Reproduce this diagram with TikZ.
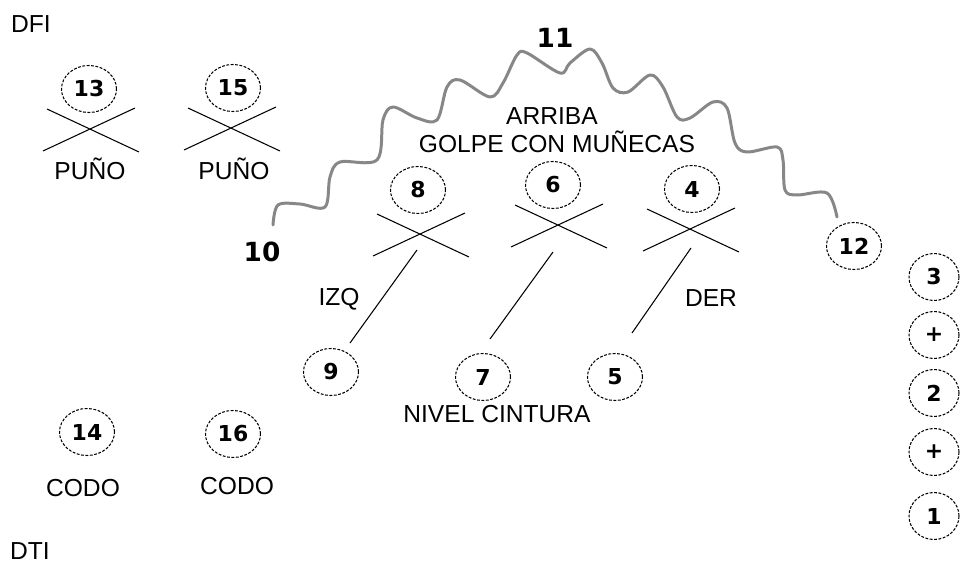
\documentclass[tikz,border=0pt]{standalone}
\usepackage{fontspec}
\setmainfont{Liberation Sans}
\newfontfamily\numfont{DejaVu Sans}
\usepackage{tikz}
\usetikzlibrary{shapes.geometric, positioning}
\definecolor{wavegray}{RGB}{135, 135, 135}

\begin{document}
\begin{tikzpicture}[
    x=0.02cm, y=-0.02cm,
    num/.style={draw, ellipse, dash pattern=on 1.6pt off 0.9pt, line width=0.6pt, minimum width=1.1cm, minimum height=0.94cm, inner sep=0pt, font=\numfont\bfseries\fontsize{12.5}{14}\selectfont},
    lbl/.style={inner sep=0pt, font=\fontsize{14}{16}\selectfont},
    bignum/.style={inner sep=0pt, font=\numfont\bfseries\fontsize{15}{17}\selectfont},
    xline/.style={line width=0.6pt},
    wave/.style={wavegray, line width=1.7pt, line cap=round, line join=round}
]
    \useasboundingbox[fill=white] (0,0) rectangle (961,568);

    % Labels - corners
    \node[lbl] (dfi) at (31,24) {DFI};
    \node[lbl] (dti) at (30,551) {DTI};

    % Nodes - left fists and elbows
    \node[num] (c13) at (89,89) {13};
    \node[num] (c15) at (233,88) {15};
    \node[lbl] (puno1) at (90,169) {PUÑO};
    \node[lbl] (puno2) at (234,169) {PUÑO};
    \node[num] (c14) at (87,432) {14};
    \node[num] (c16) at (233,434) {16};
    \node[lbl] (codo1) at (83,488) {CODO};
    \node[lbl] (codo2) at (237,486) {CODO};

    % Nodes - top row
    \node[num] (c8) at (418,190) {8};
    \node[num] (c6) at (553,185) {6};
    \node[num] (c4) at (692,189) {4};
    \node[lbl] (arriba) at (552,116) {ARRIBA};
    \node[lbl] (golpe) at (557,142) {GOLPE CON MUÑECAS};

    % Nodes - waist row
    \node[num] (c9) at (331,372) {9};
    \node[num] (c7) at (483,377) {7};
    \node[num] (c5) at (615,377) {5};
    \node[lbl] (izq) at (339,299) {IZQ};
    \node[lbl] (der) at (711,298) {DER};
    \node[lbl] (cintura) at (497,414) {NIVEL CINTURA};

    % Nodes - arc ends
    \node[bignum] (n11) at (555,38) {11};
    \node[bignum] (n10) at (262,252) {10};
    \node[num] (c12) at (854,246) {12};

    % Nodes - right column
    \node[num, minimum width=1.0cm] (c3) at (934,277) {3};
    \node[num, minimum width=1.0cm] (p2) at (934,335) {+};
    \node[num, minimum width=1.0cm] (c2) at (934,393) {2};
    \node[num, minimum width=1.0cm] (p1) at (934,452) {+};
    \node[num, minimum width=1.0cm] (c1) at (934,516) {1};

    % Crosses
    \coordinate (x13) at (90,130);
    \coordinate (x15) at (231,129);
    \coordinate (x8) at (420,235);
    \coordinate (x6) at (558,226);
    \coordinate (x4) at (690,230);
    \foreach \n in {x13,x15,x8,x6,x4}
        \draw[xline] (\n) ++(-43,-21) -- ++(92,43) (\n) ++(-47,21) -- ++(92,-43);

    % Lines to waist
    \coordinate (t9) at (417,250);
    \coordinate (b9) at (350,343);
    \coordinate (t7) at (553,252);
    \coordinate (b7) at (490,339);
    \coordinate (t5) at (691,248);
    \coordinate (b5) at (632,333);
    \draw[xline] (t9) -- (b9);
    \draw[xline] (t7) -- (b7);
    \draw[xline] (t5) -- (b5);

    % Wavy arc from 10 to 12
    \draw[wave] plot[smooth, tension=0.55] coordinates {
        (273,225) (278,205) (300,204) (325,207) (330,177) (340,162) (377,160)
        (383,120) (393,107) (417,118) (437,120) (447,87) (460,80) (490,97)
        (503,83) (517,55) (527,53) (560,73) (570,63) (590,49) (602,63)
        (613,88) (628,92) (650,75) (663,87) (677,117) (690,118) (713,102)
        (727,108) (735,143) (747,152) (777,147) (783,160) (785,190) (797,195)
        (827,193) (837,217)};
\end{tikzpicture}
\end{document}
